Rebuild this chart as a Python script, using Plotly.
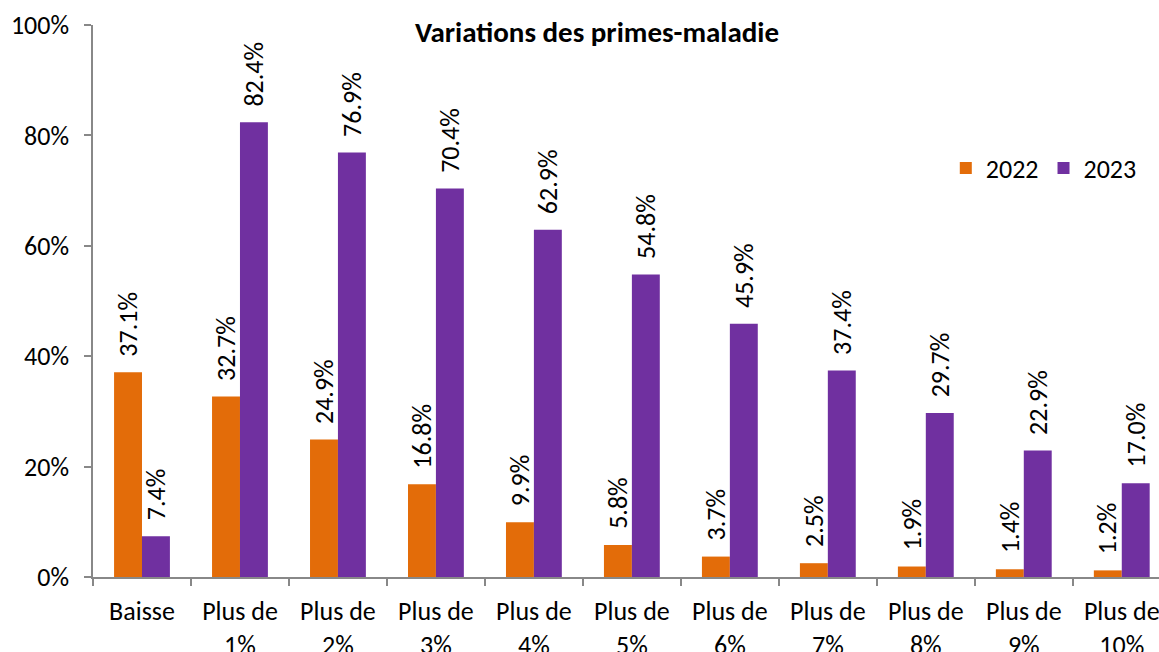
import plotly.graph_objects as go

categories = ["Baisse", "Plus de<br>1%", "Plus de<br>2%", "Plus de<br>3%", "Plus de<br>4%",
              "Plus de<br>5%", "Plus de<br>6%", "Plus de<br>7%", "Plus de<br>8%",
              "Plus de<br>9%", "Plus de<br>10%"]
values_2022 = [0.371, 0.327, 0.249, 0.168, 0.099, 0.058, 0.037, 0.025, 0.019, 0.014, 0.012]
values_2023 = [0.074, 0.824, 0.769, 0.704, 0.629, 0.548, 0.459, 0.374, 0.297, 0.229, 0.170]
series_names = ["2022", "2023"]
colors = ["#E36C09", "#7030A0"]

FONT = "Carlito, Lato, 'Open Sans', sans-serif"
W, H = 1159, 652

fig = go.Figure()
for name, vals, col in zip(series_names, [values_2022, values_2023], colors):
    fig.add_trace(go.Bar(x=categories, y=vals, name=name, marker=dict(color=col, line=dict(width=0))))

annotations = []
for vals, shift in [(values_2022, -14), (values_2023, 14)]:
    for c, v in zip(categories, vals):
        annotations.append(dict(x=c, y=v, xref="x", yref="y", text=f"{v*100:.1f}%",
                                textangle=-90, showarrow=False, xshift=shift, yshift=14,
                                yanchor="bottom", xanchor="center",
                                font=dict(family=FONT, size=26, color="#000000")))

fig.update_layout(
    width=W, height=H,
    margin=dict(l=93, r=0, t=25, b=75, autoexpand=False),
    paper_bgcolor="white", plot_bgcolor="white",
    barmode="group", bargap=0.43, bargroupgap=0,
    font=dict(family=FONT, size=26, color="#000000"),
    title=dict(text="<b>Variations des primes-maladie</b>", x=597 / W, xanchor="center",
               y=1 - 32 / H, yanchor="middle", font=dict(family=FONT, size=29, color="#000000")),
    legend=dict(orientation="h", x=0.80, xanchor="left", yref="container", y=1 - 168 / H,
                yanchor="middle", font=dict(family=FONT, size=26), itemwidth=30,
                tracegroupgap=0, bgcolor="rgba(0,0,0,0)"),
    annotations=annotations,
    xaxis=dict(range=[-0.5, 10.38], showline=True, linecolor="#888888", linewidth=1.5,
               ticks="outside", tickson="boundaries", ticklen=7, tickcolor="#888888",
               tickwidth=1.5, showgrid=False, ticklabelstandoff=10, automargin=False,
               tickfont=dict(family=FONT, size=26)),
    yaxis=dict(range=[0, 1], tickformat=".0%", dtick=0.2, showline=True, linecolor="#888888",
               linewidth=1.5, ticks="outside", ticklen=7, tickcolor="#888888", tickwidth=1.5,
               showgrid=False, zeroline=False, ticklabelstandoff=10, automargin=False,
               tickfont=dict(family=FONT, size=26)),
)

fig.write_html("out.html", config={"displayModeBar": False},
               post_script="document.body.style.margin='0';document.body.style.overflow='hidden';")
